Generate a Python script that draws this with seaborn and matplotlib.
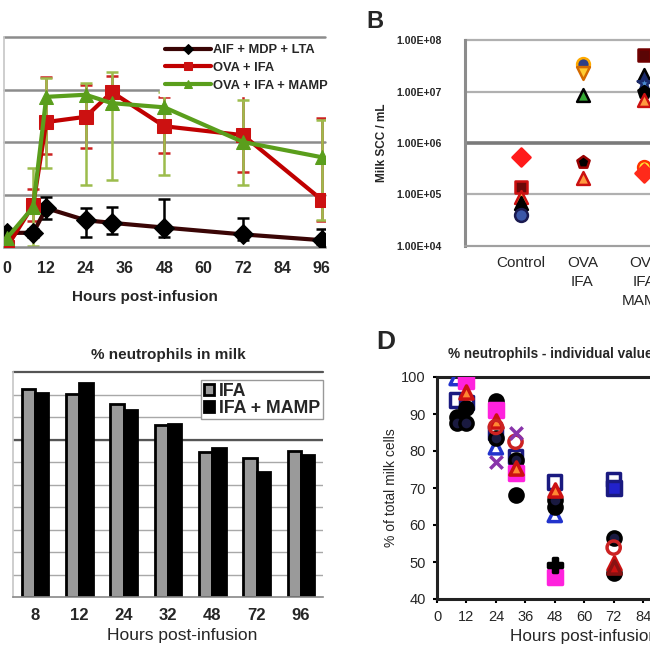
import numpy as np
import pandas as pd
import matplotlib
matplotlib.use("Agg")
import matplotlib.pyplot as plt
import seaborn as sns

# ---- Panel A: time course (means with error bars) ----
hours_a = [0, 8, 12, 24, 32, 48, 72, 96]
aif_mean = [0.27, 0.27, 0.74, 0.51, 0.46, 0.37, 0.24, 0.13]
aif_lo = [0.08, 0.08, 0.2, 0.32, 0.22, 0.18, 0.1, 0.08]
aif_hi = [0.08, 0.08, 0.21, 0.23, 0.3, 0.54, 0.31, 0.21]
ova_mean = [0.0, 0.8, 2.38, 2.48, 2.95, 2.30, 2.13, 0.90]
ova_lo = [0.0, 0.3, 0.6, 0.6, 0.3, 0.5, 0.7, 0.4]
ova_hi = [0.0, 0.3, 0.86, 0.61, 0.3, 0.56, 0.77, 1.56]
mamp_mean = [0.17, 0.76, 2.86, 2.9, 2.74, 2.66, 2.0, 1.71]
mamp_lo = [0.1, 0.74, 1.36, 1.72, 1.46, 1.29, 0.82, 1.2]
mamp_hi = [0.1, 0.74, 0.35, 0.22, 0.59, 0.3, 0.8, 0.7]

# ---- Panel B: milk SCC per animal ----
groups_b = ["Control", "OVA\nIFA", "OVA\nIFA\nMAMP"]
ctrl_scc = [5.4e5, 1.4e5, 9.0e4, 6.8e4, 4.0e4]
ova_ifa_scc = [3.4e7, 2.3e7, 8.7e6, 4.3e5, 2.1e5]
ova_mamp_scc = [5.2e7, 2.1e7, 1.45e7, 1.0e7, 6.8e6, 3.4e5, 2.6e5]

# ---- Panel C: mean % neutrophils ----
hours_c = ["8", "12", "24", "32", "48", "72", "96"]
pct_ifa = [92.4, 90.2, 85.8, 76.4, 64.4, 61.8, 64.9]
pct_mamp = [90.7, 95.1, 83.1, 76.9, 66.2, 55.6, 63.1]

# ---- Panel D: individual % neutrophils (NaN = no value) ----
hours_d = [8, 12, 24, 32, 48, 72]
cow1 = [99.7, np.nan, 81.0, np.nan, 62.7, np.nan]
cow2 = [93.8, 93.0, 85.0, 78.5, 71.6, 72.2]
cow3 = [89.2, 91.5, 93.5, 68.0, 65.0, 47.0]
cow4 = [87.6, 87.6, 83.5, 77.6, 66.8, 56.6]
cow5 = [np.nan, 99.0, 91.0, 74.0, 46.0, np.nan]
cow6 = [np.nan, 96.0, 88.0, 75.4, 69.5, 49.8]
cow7 = [np.nan, np.nan, 86.5, 82.5, np.nan, 53.9]
cow8 = [np.nan, np.nan, 77.0, 85.0, np.nan, np.nan]
cow9 = [np.nan, np.nan, np.nan, np.nan, 49.3, np.nan]
cow10 = [np.nan, np.nan, np.nan, np.nan, np.nan, 70.0]
cow11 = [np.nan, np.nan, np.nan, np.nan, np.nan, 48.7]

sns.set_theme(style="white")
plt.rcParams['font.family'] = ['Liberation Sans', 'DejaVu Sans']

fig = plt.figure(figsize=(6.5, 6.5), dpi=100)


def box(l, t, r, b):
    # pixel box -> figure fraction (the reference is a crop, so some axes run off the edge)
    return [l / 650, 1 - b / 650, (r - l) / 650, (b - t) / 650]


# --- A ---
ax_a = fig.add_axes(box(4, 37, 325, 247))
for y in [1, 2, 3, 4]:
    ax_a.axhline(y, color="#8c8c8c", lw=1.8, zorder=0, clip_on=False)

series_a = [
    ("AIF + MDP + LTA", aif_mean, aif_lo, aif_hi, "#3a0505", "D", "black", "black", 10),
    ("OVA + IFA", ova_mean, ova_lo, ova_hi, "#c00000", "s", "#cc1111", "#cc2222", 10.5),
    ("OVA + IFA + MAMP", mamp_mean, mamp_lo, mamp_hi, "#5a9e1c", "^", "#5a9e1c", "#9cbc4c", 9.5),
]
for name, mean, lo, hi, col, mk, mcol, ecol, ms in series_a:
    ax_a.errorbar(hours_a, mean, yerr=[lo, hi], fmt="none", ecolor=ecol,
                  elinewidth=1.8, capsize=4, capthick=1.8, zorder=2)
    sns.lineplot(x=hours_a, y=mean, color=col, marker=mk, markersize=ms,
                 markerfacecolor=mcol, markeredgecolor=mcol, linewidth=3,
                 label=name, ax=ax_a, zorder=3)

ax_a.set_xlim(-0.9, 97)
ax_a.set_ylim(0, 4)
ax_a.set_xticks(range(0, 97, 12))
ax_a.set_yticks([])
ax_a.tick_params(axis="x", length=4, color="#888888", width=1.2, pad=6, labelsize=11.5)
for t in ax_a.get_xticklabels():
    t.set_fontweight("bold")
ax_a.set_xlabel("Hours post-infusion", fontsize=11, fontweight="bold")
ax_a.xaxis.set_label_coords(0.44, -0.205)
ax_a.set_ylabel("")
for s in ["top", "right"]:
    ax_a.spines[s].set_visible(False)
ax_a.spines["left"].set_color("#c8c8c8")
ax_a.spines["bottom"].set_color("#8c8c8c")
ax_a.spines["bottom"].set_linewidth(1.8)
leg = ax_a.legend(loc="upper right", bbox_to_anchor=(1.03, 1.0), frameon=True,
                  fancybox=False, edgecolor="white", facecolor="white", framealpha=1,
                  fontsize=9.3, handlelength=3.6, handletextpad=0.1, labelspacing=0.45,
                  borderpad=0.35, borderaxespad=0.2, markerscale=0.55)
for t in leg.get_texts():
    t.set_fontweight("bold")

# --- B ---
ax_b = fig.add_axes(box(465, 40, 700, 246))
ax_b.set_yscale("log")
for y in [1e4, 1e5, 1e7, 1e8]:
    ax_b.axhline(y, color="#b0b0b0", lw=1.6, zorder=0, clip_on=False)
ax_b.axhline(1e6, color="#7a7a7a", lw=2.6, zorder=0)

styles_b = [
    [("D", "#ff1a1a", "#ff1a1a"), ("s", "#6b0a0a", "#cc1111"), ("^", "#ff9a40", "#cc1111"),
     ("^", "black", "black"), ("o", "#3b57a8", "#1a1a50")],
    [("o", "#2e3f86", "#ffaa00"), ("v", "#ffcc33", "#d46a00"), ("^", "#33a833", "black"),
     ("p", "black", "#990000"), ("^", "#ff9a40", "#cc1111")],
    [("s", "#5a0505", "#700000"), ("^", "#1a2a6c", "black"), ("*", "#4a8ad0", "#1a2a6c"),
     ("p", "black", "black"), ("^", "#ff9a40", "#cc1111"), ("o", "#ffe833", "#ff3300"),
     ("D", "#ff2a1a", "#ff2a1a")],
]
for gi, (vals, sty) in enumerate(zip([ctrl_scc, ova_ifa_scc, ova_mamp_scc], styles_b)):
    for v, (mk, fc, ec) in zip(vals, sty):
        sns.scatterplot(x=[gi], y=[v], marker=mk, color=fc, edgecolor=ec, linewidth=1.8,
                        s=110 if mk == "*" else 85, ax=ax_b, zorder=3)

ax_b.set_xlim(-0.9, 2.9)
ax_b.set_ylim(1e4, 1e8)
ax_b.set_yticks([1e4, 1e5, 1e6, 1e7, 1e8])
ax_b.set_yticklabels(["1.00E+04", "1.00E+05", "1.00E+06", "1.00E+07", "1.00E+08"])
ax_b.minorticks_off()
ax_b.set_xticks([0, 1, 2])
ax_b.set_xticklabels(groups_b, linespacing=1.45)
ax_b.tick_params(axis="y", length=0, pad=17, labelsize=7.6)
ax_b.tick_params(axis="x", length=0, pad=7, labelsize=11)
for t in ax_b.get_yticklabels():
    t.set_fontweight("bold")
ax_b.set_ylabel("Milk SCC / mL", fontsize=8.5, fontweight="bold", labelpad=6)
for s in ["top", "right"]:
    ax_b.spines[s].set_visible(False)
ax_b.spines["left"].set_color("#8c8c8c")
ax_b.spines["left"].set_linewidth(2.2)
ax_b.spines["bottom"].set_color("#a0a0a0")
ax_b.spines["bottom"].set_linewidth(1.4)
fig.text(375 / 650, 1 - 22 / 650, "B", fontsize=17, fontweight="bold", ha="center", va="center")

# --- C ---
ax_c = fig.add_axes(box(13, 372, 323, 597))
for y in range(10, 100, 10):
    ax_c.axhline(y, color="#a8a8a8", lw=1.0, zorder=0)
ax_c.axhline(70, color="#555555", lw=1.6, zorder=0)
ax_c.axhline(100, color="#555555", lw=1.6, zorder=0, clip_on=False)

df_c = pd.DataFrame({
    "hours": hours_c * 2,
    "pct": pct_ifa + pct_mamp,
    "treatment": ["IFA"] * len(hours_c) + ["IFA + MAMP"] * len(hours_c),
})
sns.barplot(data=df_c, x="hours", y="pct", hue="treatment", order=hours_c,
            palette={"IFA": "#9a9a9a", "IFA + MAMP": "black"}, edgecolor="black",
            linewidth=2, width=0.6, ax=ax_c, zorder=2)
ax_c.set_xlim(-0.5, 6.5)
ax_c.set_ylim(0, 100)
ax_c.set_yticks([])
ax_c.set_xticks(np.arange(-0.5, 7, 1), minor=True)
ax_c.tick_params(axis="x", which="major", length=0, pad=8, labelsize=12)
ax_c.tick_params(axis="x", which="minor", length=3, color="#888888", width=1)
for t in ax_c.get_xticklabels():
    t.set_fontweight("bold")
ax_c.set_xlabel("Hours post-infusion", fontsize=12.5)
ax_c.xaxis.set_label_coords(0.545, -0.138)
ax_c.set_ylabel("")
ax_c.set_title("% neutrophils in milk", fontsize=11, fontweight="bold", pad=9)
for s in ["top", "right"]:
    ax_c.spines[s].set_visible(False)
ax_c.spines["left"].set_color("#c8c8c8")
ax_c.spines["bottom"].set_color("#888888")
ax_c.spines["bottom"].set_linewidth(1.2)
ax_c.legend(loc="upper right", bbox_to_anchor=(1.0, 0.965), frameon=True, fancybox=False,
            edgecolor="#999999", framealpha=1, handlelength=0.55,
            handleheight=0.55, handletextpad=0.3, labelspacing=0.0, borderpad=0.15,
            borderaxespad=0.0, title=None, prop={"weight": "bold", "size": 12.8})

# --- D ---
ax_d = fig.add_axes(box(437, 377, 702, 599))
cows = [cow1, cow2, cow3, cow4, cow5, cow6, cow7, cow8, cow9, cow10, cow11]
styles_d = [
    ("^", "none", "#2233cc"), ("s", "none", "#1a1a80"), ("o", "black", "black"),
    ("o", "#1a1a40", "black"), ("s", "#ff22dd", "#ff22dd"), ("^", "#ff8833", "#cc1111"),
    ("o", "none", "#cc2222"), ("x", "#8833aa", "#8833aa"), ("P", "black", "black"),
    ("s", "#2222cc", "#1a1a80"), ("^", "#cc1111", "#881111"),
]
for vals, (mk, fc, ec) in zip(cows, styles_d):
    if mk == "x":
        sns.scatterplot(x=hours_d, y=vals, marker=mk, color=ec, linewidth=2.5, s=80, ax=ax_d, zorder=3)
    else:
        sns.scatterplot(x=hours_d, y=vals, marker=mk, color=ec, facecolor=fc, edgecolor=ec,
                        linewidth=2.5, s=90, ax=ax_d, zorder=3)
ax_d.set_xlim(0, 108)
ax_d.set_ylim(40, 100)
ax_d.set_xticks(range(0, 97, 12))
ax_d.set_yticks(range(40, 101, 10))
ax_d.tick_params(length=3, width=1.5, color="black", labelsize=10.5, pad=5, bottom=True, left=True)
ax_d.set_xlabel("Hours post-infusion", fontsize=12.3)
ax_d.xaxis.set_label_coords(0.555, -0.135)
ax_d.set_ylabel("% of total milk cells", fontsize=10, labelpad=2)
for s in ax_d.spines.values():
    s.set_visible(True)
    s.set_color("#222222")
    s.set_linewidth(2.2)
ax_d.text(0.04, 1.105, "% neutrophils - individual values", transform=ax_d.transAxes,
          fontsize=9.8, fontweight="bold", ha="left", va="center")
fig.text(386 / 650, 1 - 342 / 650, "D", fontsize=19, fontweight="bold", ha="center", va="center")

fig.savefig("out.png", dpi=100)
